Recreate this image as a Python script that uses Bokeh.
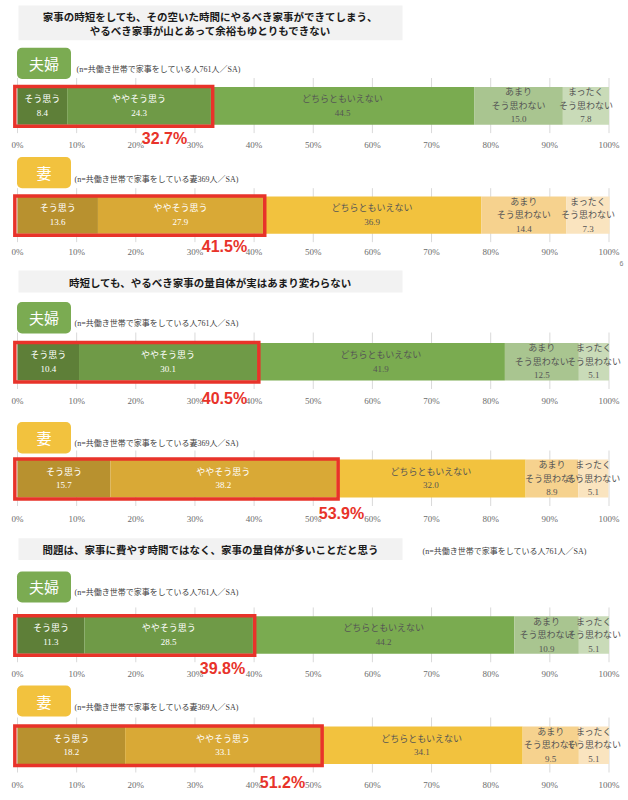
from bokeh.plotting import figure
from bokeh.models import Range1d, FixedTicker, PrintfTickFormatter, ColumnDataSource
from bokeh.layouts import column
from bokeh.embed import file_html
from bokeh.resources import INLINE
from bokeh.core.properties import value

# ---------------- data ----------------
categories = ["そう思う", "ややそう思う", "どちらともいえない", "あまり\nそう思わない", "まったく\nそう思わない"]
groups = ["夫婦", "妻", "夫婦", "妻", "夫婦", "妻"]
question_titles = [
    ["家事の時短をしても、その空いた時間にやるべき家事ができてしまう、", "やるべき家事が山とあって余裕もゆとりもできない"],
    ["時短しても、やるべき家事の量自体が実はあまり変わらない"],
    ["問題は、家事に費やす時間ではなく、家事の量自体が多いことだと思う"],
]
note_couple = "(n=共働き世帯で家事をしている人761人／SA)"
note_wife = "(n=共働き世帯で家事をしている妻369人／SA)"

q1_couple = [8.4, 24.3, 44.5, 15.0, 7.8]
q1_wife = [13.6, 27.9, 36.9, 14.4, 7.3]
q2_couple = [10.4, 30.1, 41.9, 12.5, 5.1]
q2_wife = [15.7, 38.2, 32.0, 8.9, 5.1]
q3_couple = [11.3, 28.5, 44.2, 10.9, 5.1]
q3_wife = [18.2, 33.1, 34.1, 9.5, 5.1]
series = [q1_couple, q1_wife, q2_couple, q2_wife, q3_couple, q3_wife]

agree_totals = [32.7, 41.5, 40.5, 53.9, 39.8, 51.2]
tick_values = [0, 10, 20, 30, 40, 50, 60, 70, 80, 90, 100]

# ---------------- style ----------------
green = ["#5e7f38", "#6f9a47", "#7aab50", "#a9c590", "#c9dbb8"]
yellow = ["#b8912f", "#d9a936", "#f2c23e", "#f6d28e", "#fae4bf"]
badge_colors = {"夫婦": "#7bab52", "妻": "#f2c23e"}
seg_text_colors = ["#ffffff", "#ffffff", "#555555", "#555555", "#555555"]
RED = "#e8332a"
JP = value("'Noto Sans CJK JP'")
SERIF = value("'Liberation Serif', 'Noto Sans CJK JP'")
NARROW = value("'Liberation Sans Narrow', 'Liberation Sans'")

W = 628
PX0, PX_PER_PCT = 17.0, 5.915  # page x of 0% and px per 1%

def pct(px):
    return (px - PX0) / PX_PER_PCT

# per-panel layout (page pixel y coordinates)
panels = [
    dict(top=0, bot=152, sd=-12, bar=(87, 125), grid=78, badge=(47.5, 79), note=(76, 69), pl=(164, 138.5),
         title=(0, (5, 40), [15.7, 30.2]), side_note=None),
    dict(top=152, bot=259, sd=-12, bar=(196.5, 234), grid=188, badge=(156.5, 188), note=(74, 179), pl=(224, 247),
         title=None, side_note=None),
    dict(top=259, bot=410, sd=-15, bar=(342.5, 380), grid=332, badge=(301.5, 333), note=(74, 323), pl=(224, 397.5),
         title=(1, (270, 292), [281.5]), side_note=None),
    dict(top=410, bot=527, sd=-14, bar=(459, 497), grid=450, badge=(421.5, 453), note=(74, 443), pl=(341, 512.5),
         title=None, side_note=None),
    dict(top=527, bot=681, sd=-11, bar=(617, 655), grid=608, badge=(571.5, 603), note=(74, 593), pl=(222, 670),
         title=(2, (538, 560), [549.5]), side_note=(422, 551)),
    dict(top=681, bot=800, sd=-21, bar=(726, 763.5), grid=717, badge=(685, 716), note=(74, 707), pl=(282, 781.5),
         title=None, side_note=None),
]

figs = []
for i, lay in enumerate(panels):
    vals = series[i]
    grp = groups[i]
    colors = green if grp == "夫婦" else yellow
    h = lay["bot"] - lay["top"]
    p = figure(width=W, height=h, output_backend="svg", toolbar_location=None,
               x_range=Range1d(pct(0), pct(W)), y_range=Range1d(lay["bot"], lay["top"]),
               y_axis_location=None, min_border_left=0, min_border_right=0,
               min_border_top=0, min_border_bottom=0)
    p.extra_x_ranges = {"px": Range1d(0, W)}
    p.outline_line_color = None
    p.xgrid.visible = False
    p.ygrid.visible = False
    p.background_fill_color = "white"
    p.border_fill_color = "white"

    ax = p.xaxis[0]
    ax.ticker = FixedTicker(ticks=tick_values)
    ax.formatter = PrintfTickFormatter(format="%d%%")
    ax.axis_line_color = None
    ax.major_tick_line_color = None
    ax.minor_tick_line_color = None
    ax.major_tick_out = 0
    ax.major_tick_in = 0
    ax.major_label_text_font_size = "9px"
    ax.major_label_text_color = "#6b6b6b"
    ax.major_label_text_font = "Liberation Serif"
    ax.major_label_standoff = lay["sd"]

    # question title box
    if lay["title"] is not None:
        qi, (ty0, ty1), ys = lay["title"]
        p.quad(left=[18], right=[402], top=[ty0], bottom=[ty1], x_range_name="px",
               fill_color="#f2f2f2", line_color=None)
        p.text(x=[210] * len(ys), y=ys, text=question_titles[qi], x_range_name="px",
               text_font=JP, text_font_size="10.5px", text_font_style="bold",
               text_color="#1a1a1a", text_align="center", text_baseline="middle")
    if lay["side_note"] is not None:
        sx, sy = lay["side_note"]
        p.text(x=[sx], y=[sy], text=[note_couple], x_range_name="px", text_font=SERIF,
               text_font_size="8px", text_color="#404040", text_align="left", text_baseline="middle")

    # badge
    b0, b1 = lay["badge"]
    p.quad(left=[16.5], right=[70.5], top=[b0], bottom=[b1], x_range_name="px",
           fill_color=badge_colors[grp], line_color=None, border_radius=5)
    p.text(x=[43.5], y=[(b0 + b1) / 2], text=[grp], x_range_name="px", text_font=JP,
           text_font_size="15px", text_color="white", text_align="center", text_baseline="middle")
    nx, ny = lay["note"]
    p.text(x=[nx], y=[ny], text=[note_couple if grp == "夫婦" else note_wife], x_range_name="px",
           text_font=SERIF, text_font_size="8px", text_color="#404040",
           text_align="left", text_baseline="middle")

    bt, bb = lay["bar"]
    # grid lines
    p.segment(x0=tick_values, x1=tick_values, y0=[lay["grid"]] * len(tick_values),
              y1=[bb + 8.5] * len(tick_values), line_color="#d9d9d9", line_width=1)

    # stacked bar
    left, right = [], []
    acc = 0.0
    for v in vals:
        left.append(acc)
        acc += v
        right.append(acc)
    src = ColumnDataSource(dict(
        left=left, right=right, top=[bt] * 5, bottom=[bb] * 5, color=colors,
        mid=[(l + r) / 2 for l, r in zip(left, right)], y=[(bt + bb) / 2] * 5,
        label=[f"{c}\n{v:.1f}" for c, v in zip(categories, vals)], tcol=seg_text_colors))
    p.quad(left="left", right="right", top="top", bottom="bottom", source=src,
           fill_color="color", line_color=None)
    p.text(x="mid", y="y", text="label", source=src, text_font=SERIF, text_font_size="9px",
           text_color="tcol", text_align="center", text_baseline="middle", text_line_height=1.35)

    # red highlight box
    tot = agree_totals[i]
    p.quad(left=[-0.45], right=[tot + 0.3], top=[bt - 0.5], bottom=[bb + 1.5],
           fill_alpha=0, line_color=RED, line_width=3.5, line_join="miter")
    lx, ly = lay["pl"]
    p.text(x=[lx], y=[ly], text=[f"{tot:.1f}%"], x_range_name="px", text_font=NARROW,
           text_font_size="16px", text_font_style="bold", text_color=RED,
           text_align="center", text_baseline="middle")
    if i == 2:
        p.text(x=[621], y=[262.5], text=["6"], x_range_name="px", text_font_size="7px",
               text_color="#808080", text_align="center", text_baseline="middle")
    figs.append(p)

layout = column(*figs, spacing=0)
open("out.html", "w").write(file_html(layout, INLINE))
